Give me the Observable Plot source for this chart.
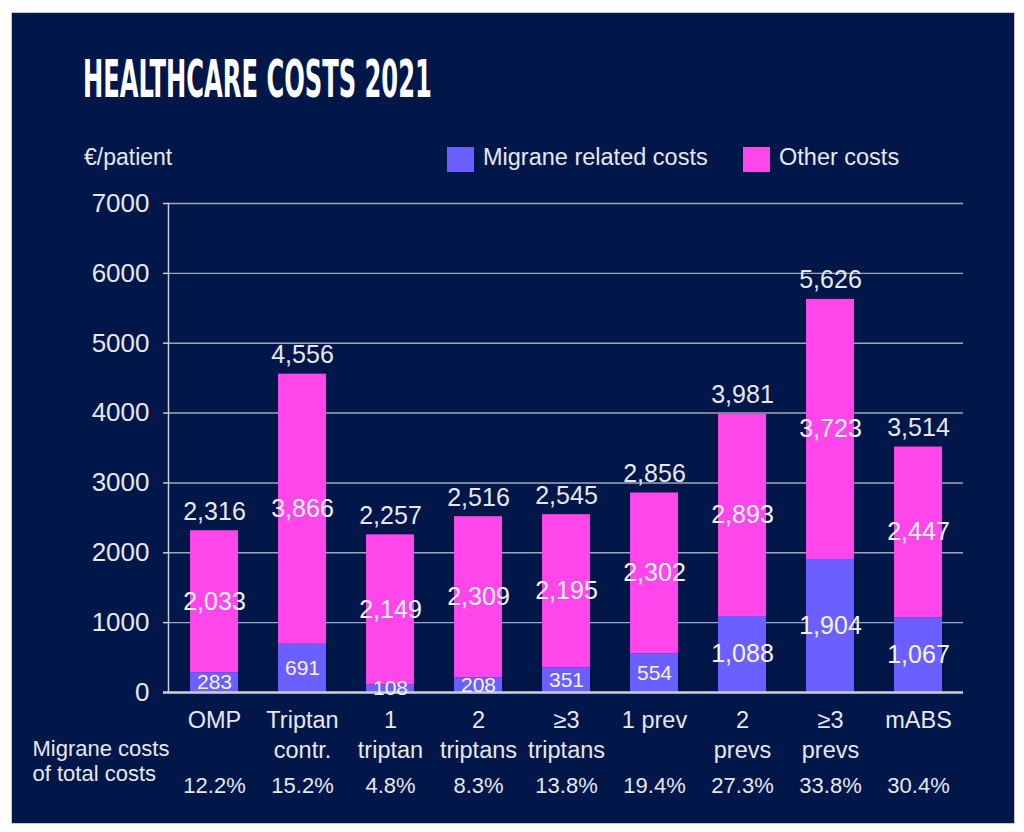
<!DOCTYPE html>
<html>
<head>
<meta charset="utf-8">
<script src="https://cdn.jsdelivr.net/npm/d3@7"></script>
<script src="https://cdn.jsdelivr.net/npm/@observablehq/plot@0.6"></script>
<style>
  html, body { margin: 0; padding: 0; background: #ffffff; }
  #panel {
    position: absolute; left: 12px; top: 13px; width: 1002px; height: 810px;
    background: #011649; overflow: hidden;
    box-shadow: 0 0 0 1px #c4c8d4;
    font-family: "Liberation Sans", Arial, sans-serif; color: #e6e8f0;
  }
  #title { position: absolute; left: 68px; top: 40px; overflow: visible; }
  #unit { position: absolute; left: 72px; top: 131px; font-size: 23px; }
  .legend-item { position: absolute; top: 131px; font-size: 23.5px; white-space: nowrap; }
  .swatch { position: absolute; width: 27px; height: 25px; top: 3px; }
  .legend-item span.label { position: absolute; left: 36px; top: 0; }
  #chart { position: absolute; left: 0; top: 175px; }
</style>
</head>
<body>
<div id="panel">
  <svg id="title" width="800" height="60">
    <text id="titleText" x="0" y="0" transform="translate(3,44)"
      font-family="'Liberation Sans Narrow', 'DejaVu Sans Condensed', sans-serif"
      font-weight="bold" font-size="52" fill="#ffffff">HEALTHCARE COSTS 2021</text>
  </svg>
  <div id="unit">€/patient</div>
  <div id="legend"></div>
  <div id="chart"></div>
</div>
<script>
// Cost categories (line breaks are part of the axis labels)
const categories = ["OMP", "Triptan\ncontr.", "1\ntriptan", "2\ntriptans", "≥3\ntriptans", "1 prev", "2\nprevs", "≥3\nprevs", "mABS"];
// €/patient, migraine-related part of the costs
const migraineCosts = [283, 691, 108, 208, 351, 554, 1088, 1904, 1067];
// €/patient, all other healthcare costs
const otherCosts = [2033, 3866, 2149, 2309, 2195, 2302, 2893, 3723, 2447];
// €/patient, total costs as labelled above each bar
const totalCosts = [2316, 4556, 2257, 2516, 2545, 2856, 3981, 5626, 3514];
// Share of migraine costs in total costs
const migraineShare = ["12.2%", "15.2%", "4.8%", "8.3%", "13.8%", "19.4%", "27.3%", "33.8%", "30.4%"];
// Series names and y-axis ticks
const seriesNames = ["Migrane related costs", "Other costs"];
const yTicks = [0, 1000, 2000, 3000, 4000, 5000, 6000, 7000];

const seriesColors = ["#6b5fff", "#ff46ea"];
const textColor = "#e6e8f0";
const gridColor = "#c9ccd8";
const fmt = d3.format(",");

// Condensed title: squeeze the heading horizontally to a fixed width
const titleText = document.getElementById("titleText");
const titleWidth = titleText.getComputedTextLength();
titleText.setAttribute("transform", `translate(3,44) scale(${349 / titleWidth},1)`);

// Legend
const legend = document.getElementById("legend");
const legendX = [435, 731];
seriesNames.forEach((name, i) => {
  const item = document.createElement("div");
  item.className = "legend-item";
  item.style.left = legendX[i] + "px";
  item.innerHTML = `<div class="swatch" style="background:${seriesColors[i]}"></div><span class="label">${name}</span>`;
  legend.appendChild(item);
});

// Long-format rows: migraine segment at the bottom, other costs on top
const rows = categories.flatMap((cat, i) => [
  {cat, series: seriesNames[0], value: migraineCosts[i]},
  {cat, series: seriesNames[1], value: otherCosts[i]}
]);
const totals = categories.map((cat, i) => ({cat, total: totalCosts[i]}));
const shares = categories.map((cat, i) => ({cat, share: migraineShare[i]}));

const chart = Plot.plot({
  width: 1002,
  height: 635,
  marginLeft: 156,
  marginRight: 51,
  marginTop: 15,
  marginBottom: 131,
  style: {background: "transparent", color: textColor, fontFamily: "'Liberation Sans', Arial, sans-serif", overflow: "visible"},
  x: {domain: categories, paddingInner: 0.455, paddingOuter: 0.2275, label: null},
  y: {domain: [0, 7000], label: null},
  color: {domain: seriesNames, range: seriesColors},
  marks: [
    Plot.gridY(yTicks, {stroke: gridColor, strokeOpacity: 0.8, strokeWidth: 1.4}),
    Plot.axisY(yTicks, {tickSize: 5, tickPadding: 14, fontSize: 26, tickFormat: d => String(d), label: null, stroke: gridColor, strokeWidth: 1.5}),
    Plot.frame({anchor: "left", stroke: gridColor, strokeWidth: 1.5}),
    Plot.barY(rows, {x: "cat", y: "value", fill: "series"}),
    Plot.ruleY([0], {stroke: gridColor, strokeWidth: 2.5, insetLeft: -5}),
    // Segment values, centred in each segment
    Plot.text(rows, Plot.stackY({
      x: "cat", y: "value",
      text: d => fmt(d.value),
      fill: "#f4f4fa",
      fontSize: d => (d.series === seriesNames[0] && d.value < 1000) ? 21 : 25
    })),
    // Totals above the bars
    Plot.text(totals, {x: "cat", y: "total", text: d => fmt(d.total), dy: -19, fontSize: 25, fill: textColor}),
    Plot.axisX({tickSize: 0, tickPadding: 14, fontSize: 23.5, lineHeight: 1.28, label: null}),
    // Share of migraine costs row
    Plot.text(shares, {x: "cat", text: "share", frameAnchor: "bottom", dy: 100, fontSize: 22, fill: textColor}),
    Plot.text(["Migrane costs\nof total costs"], {
      frameAnchor: "bottom-left", textAnchor: "start", dx: -136, dy: 88,
      fontSize: 22, lineHeight: 1.1, fill: textColor
    })
  ]
});
document.getElementById("chart").appendChild(chart);
</script>
</body>
</html>
